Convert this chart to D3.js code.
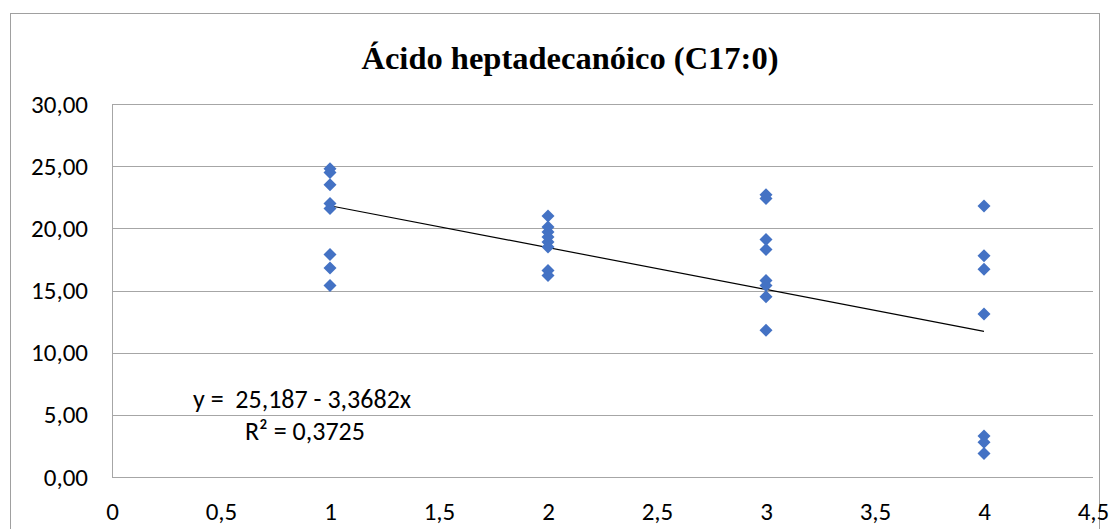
<!DOCTYPE html>
<html><head><meta charset="utf-8">
<script src="https://cdn.jsdelivr.net/npm/d3@7"></script>
<style>body{margin:0;background:#fff}svg{display:block}</style>
</head><body><svg id="c" width="1110" height="529"></svg>
<script>
const title = "Ácido heptadecanóico (C17:0)";
const xs = [1,1,1,1,1,1,1,1, 2,2,2,2,2,2,2,2, 3,3,3,3,3,3,3,3, 4,4,4,4,4,4,4];
const ys = [24.8,24.5,23.5,22.0,21.6,17.9,16.8,15.4,
            21.0,20.1,19.7,19.3,18.9,18.5,16.6,16.2,
            22.7,22.4,19.1,18.3,15.8,15.4,14.5,11.8,
            21.8,17.8,16.7,13.1,3.3,2.8,1.9];
const xTicks = [0,0.5,1,1.5,2,2.5,3,3.5,4,4.5];
const yTicks = [0,5,10,15,20,25,30];
const intercept = 25.187, slope = -3.3682, r2 = "0,3725";
const eqText = "y =  25,187 - 3,3682x";
const r2Text = "R² = " + r2;

const svg = d3.select("#c");
const L=112, R=1093, T=104, B=477;
const x = d3.scaleLinear().domain([0,4.5]).range([L,R]);
const y = d3.scaleLinear().domain([0,30]).range([B,T]);
const comma = v => v.toString().replace(".", ",");
const font = "Carlito, 'Liberation Sans', sans-serif";

svg.append("rect").attr("x",10.5).attr("y",13.5).attr("width",1089).attr("height",530)
  .attr("fill","none").attr("stroke","#a0a0a0");

svg.append("text").attr("x",570).attr("y",69).attr("text-anchor","middle")
  .attr("font-family","'Liberation Serif', 'Times New Roman', serif").attr("font-weight","bold")
  .attr("font-size",32.5).attr("fill","#000").text(title);

// grid
svg.append("g").selectAll("line").data(yTicks).join("line")
  .attr("x1",L).attr("x2",R).attr("y1",d=>Math.round(y(d))+0.5).attr("y2",d=>Math.round(y(d))+0.5)
  .attr("stroke","#a6a6a6").attr("stroke-width",1);
svg.append("line").attr("x1",L+0.5).attr("x2",L+0.5).attr("y1",T).attr("y2",B)
  .attr("stroke","#a6a6a6");

const yAxis = svg.append("g").attr("transform",`translate(${L},0)`)
  .call(d3.axisLeft(y).tickValues(yTicks).tickSize(0).tickPadding(24).tickFormat(d=>d3.format(".2f")(d).replace(".",",")));
yAxis.select(".domain").remove();
yAxis.selectAll("text").attr("font-family",font).attr("font-size",25).attr("fill","#000");

const xAxis = svg.append("g").attr("transform",`translate(0,${B})`)
  .call(d3.axisBottom(x).tickValues(xTicks).tickSize(0).tickPadding(25).tickFormat(comma));
xAxis.select(".domain").remove();
xAxis.selectAll("text").attr("font-family",font).attr("font-size",25).attr("fill","#000");

// trendline
svg.append("line").attr("x1",x(1)).attr("y1",y(intercept+slope*1))
  .attr("x2",x(4)).attr("y2",y(intercept+slope*4)).attr("stroke","#000").attr("stroke-width",1.2);

// points
const s = 6.5;
svg.append("g").selectAll("path").data(xs.map((d,i)=>[d,ys[i]])).join("path")
  .attr("d",d=>`M${x(d[0])},${y(d[1])-s}L${x(d[0])+s},${y(d[1])}L${x(d[0])},${y(d[1])+s}L${x(d[0])-s},${y(d[1])}Z`)
  .attr("fill","#4472C4");

svg.append("text").attr("x",193).attr("y",408).attr("font-family",font).attr("font-size",26)
  .attr("fill","#000").attr("xml:space","preserve").style("white-space","pre").text(eqText);
svg.append("text").attr("x",245).attr("y",440).attr("font-family",font).attr("font-size",26)
  .attr("fill","#000").text(r2Text);
</script></body></html>
